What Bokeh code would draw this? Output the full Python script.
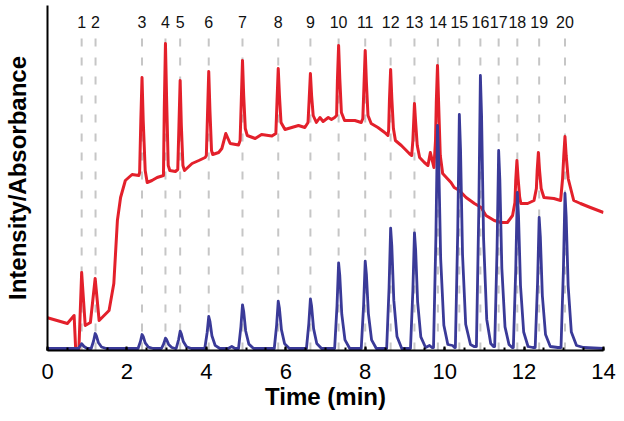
from bokeh.plotting import figure
from bokeh.models import Range1d, FixedTicker, ColumnDataSource
from bokeh.embed import file_html
from bokeh.resources import INLINE
from bokeh.core.properties import value

# ---------------- data ----------------
peak_labels = [str(i) for i in range(1, 21)]
peak_times = [0.86, 1.21, 2.38, 2.97, 3.34, 4.06, 4.91, 5.81, 6.62, 7.33,
              8.00, 8.64, 9.24, 9.83, 10.37, 10.90, 11.36, 11.83, 12.38, 13.03]

x_ticks = [0, 2, 4, 6, 8, 10, 12, 14]
x_minor_ticks = [0.5 * i for i in range(29)]

# MS intensity trace (red): time (min), intensity (arb.)
red_t = [0.00, 0.50, 0.67, 0.71, 0.79, 0.86, 0.95, 1.08, 1.20, 1.30,
         1.55, 1.67, 1.76, 1.84, 1.96, 2.13, 2.30,
         2.32, 2.35, 2.38, 2.41, 2.46,
         2.51, 2.63, 2.76, 2.92,
         2.94, 2.97, 3.00, 3.04, 3.08,
         3.22, 3.28, 3.31, 3.34, 3.37, 3.41, 3.45,
         3.64, 3.81, 3.97, 4.00, 4.03, 4.06, 4.09, 4.13, 4.16,
         4.31, 4.39, 4.49, 4.60, 4.81,
         4.85, 4.88, 4.91, 4.94, 4.98, 5.03,
         5.23, 5.39, 5.65, 5.75, 5.78, 5.81, 5.84, 5.88, 5.98,
         6.32, 6.48, 6.56, 6.59, 6.62, 6.65, 6.69, 6.77,
         6.86, 6.94, 7.07, 7.15, 7.23, 7.28, 7.30, 7.33, 7.36, 7.40, 7.48,
         7.74, 7.90, 7.94, 7.97, 8.00, 8.03, 8.07, 8.15,
         8.32, 8.49, 8.57, 8.59, 8.61, 8.64, 8.67, 8.71, 8.76,
         8.91, 9.11, 9.17, 9.20, 9.22, 9.24, 9.27, 9.31, 9.37,
         9.49, 9.58, 9.64, 9.73, 9.77, 9.79, 9.82, 9.85, 9.89, 9.95,
         10.16, 10.24, 10.37, 10.54, 10.75, 10.92, 11.04, 11.25, 11.42, 11.58, 11.71,
         11.77, 11.79, 11.82, 11.85, 11.89, 11.92,
         12.09, 12.25, 12.31, 12.33, 12.36, 12.39, 12.43, 12.50,
         12.75, 12.92, 12.97, 13.00, 13.03, 13.06, 13.11, 13.25,
         13.42, 13.67, 14.00]
red_v = [32.7, 27, 35, 1, 1, 78, 25, 28, 72, 30,
         40, 67, 130, 153, 170, 176, 175,
         178, 230, 273, 230, 180,
         168, 170, 173, 175,
         240, 307, 250, 185, 180,
         179, 181, 225, 270, 225, 185, 180,
         187, 190, 193, 195, 237, 279, 240, 200, 196,
         198, 202, 217, 207, 205.5,
         210, 250, 290, 255, 222, 215,
         212, 216, 214.5, 217, 250, 282, 255, 228, 221,
         225, 223, 228, 252, 277, 255, 235, 228,
         233, 229, 233, 231, 233, 235, 270, 305, 272, 238, 230,
         230, 228, 232, 266, 300, 268, 235, 227,
         223, 218, 215, 220, 250, 281, 252, 222, 210,
         205, 197, 195, 210, 228, 247, 228, 205, 193,
         188, 185, 198, 183, 210, 248, 285, 245, 195, 177,
         168, 163, 160, 153, 147, 143, 135, 130, 128, 128, 135,
         148, 170, 190, 172, 153, 147,
         147, 150, 162, 180, 198, 180, 162, 153,
         152, 150, 172, 195, 214, 195, 172, 150,
         147, 143, 138]

# UV absorbance trace (blue): time (min), absorbance (arb.)
blue_t = [0.00,
          0.78, 0.86, 0.92, 1.00,
          1.10, 1.16, 1.20, 1.23, 1.28, 1.36, 1.48,
          2.28, 2.34, 2.38, 2.41, 2.46, 2.54, 2.66,
          2.87, 2.93, 2.97, 3.00, 3.05, 3.13, 3.22,
          3.24, 3.30, 3.34, 3.37, 3.42, 3.50, 3.62,
          3.96, 4.02, 4.06, 4.09, 4.14, 4.22, 4.34,
          4.55, 4.64, 4.72,
          4.81, 4.87, 4.91, 4.94, 4.99, 5.07, 5.19,
          5.71, 5.77, 5.81, 5.84, 5.89, 5.97, 6.09,
          6.52, 6.58, 6.62, 6.65, 6.70, 6.78, 6.90,
          7.23, 7.29, 7.33, 7.36, 7.41, 7.49, 7.61,
          7.90, 7.96, 8.00, 8.03, 8.08, 8.16, 8.28,
          8.54, 8.60, 8.64, 8.67, 8.72, 8.80, 8.92,
          9.14, 9.20, 9.24, 9.27, 9.32, 9.40, 9.52, 9.62, 9.68,
          9.72, 9.78, 9.82, 9.85, 9.90, 9.98, 10.08, 10.20, 10.25,
          10.27, 10.33, 10.37, 10.40, 10.45, 10.53, 10.65, 10.74,
          10.80, 10.86, 10.90, 10.93, 10.98, 11.06, 11.16, 11.23,
          11.26, 11.32, 11.36, 11.39, 11.44, 11.52, 11.62, 11.70,
          11.73, 11.79, 11.83, 11.86, 11.91, 11.99, 12.10, 12.22,
          12.28, 12.34, 12.38, 12.41, 12.46, 12.54, 12.66, 12.85,
          12.93, 12.99, 13.03, 13.06, 13.11, 13.19, 13.32, 13.50,
          14.00]
blue_v = [2,
          2, 6.7, 4, 2,
          2, 9.5, 17, 14.8, 8, 3.5, 2,
          2, 9, 16, 14, 7.6, 3.4, 2,
          2, 7.2, 12.3, 10.8, 6.1, 3, 2,
          2, 10.7, 19.3, 16.7, 8.9, 3.7, 2,
          2, 18, 34, 29.2, 14.8, 5.2, 2,
          2, 4, 2,
          2, 23.9, 45.7, 39.1, 19.5, 6.4, 2,
          2, 25.7, 49.3, 42.2, 20.9, 6.7, 2,
          2, 26.9, 51.7, 44.2, 21.9, 7, 2,
          2, 44.9, 87.7, 74.8, 36.3, 10.6, 2,
          2, 45.7, 89.3, 76.2, 36.9, 10.7, 2,
          2, 62.2, 122.3, 104.3, 50.1, 14, 2,
          2, 59.9, 117.7, 100.3, 48.3, 13.6, 3, 5, 3,
          3, 114, 225, 191.7, 91.8, 25.2, 6, 5, 3,
          3, 119.5, 236, 201, 96.2, 26.3, 6, 4,
          4, 139.5, 275, 234.4, 112.4, 31.1, 7, 4,
          4, 102, 200, 170.6, 82.4, 23.6, 6, 3,
          3, 80.5, 158, 134.8, 65, 18.5, 4, 3,
          3, 68, 133, 113.5, 55, 16, 4, 3,
          3, 80, 157, 133.9, 64.6, 18.4, 5, 3,
          2]

Y_TOP = 345
DASH_TOP = 312
LABEL_Y = 329

FONT = "Liberation Sans"

p = figure(width=616, height=413, output_backend="svg", toolbar_location=None,
           x_range=Range1d(0, 14), y_range=Range1d(0, Y_TOP),
           min_border_left=45, min_border_right=13, min_border_top=5,
           min_border_bottom=63)
p.outline_line_color = None
p.xgrid.visible = False
p.ygrid.visible = False
p.background_fill_color = "white"
p.border_fill_color = "white"

# dashed guide lines at the peaks
guides = ColumnDataSource(dict(x=peak_times,
                               y0=[DASH_TOP] * len(peak_times),
                               y1=[0] * len(peak_times),
                               lab=peak_labels,
                               ly=[LABEL_Y] * len(peak_times)))
p.segment(x0="x", y0="y0", x1="x", y1="y1", source=guides,
          line_color="#c6c6c6", line_width=2, line_dash="8 11")
p.text(x="x", y="ly", text="lab", source=guides,
       text_font=value(FONT), text_font_size="16px", text_color="#111111",
       text_align="center", text_baseline="middle")

# traces
p.line(red_t, red_v, line_color="#e3202b", line_width=3, line_join="round")
p.line(blue_t, blue_v, line_color="#3a3a98", line_width=2.8, line_join="round")

# x axis
xa = p.xaxis[0]
xa.ticker = FixedTicker(ticks=x_ticks, minor_ticks=x_minor_ticks)
xa.axis_line_width = 2
xa.axis_line_color = "black"
xa.major_tick_in = 4
xa.major_tick_out = 0
xa.minor_tick_in = 3
xa.minor_tick_out = 0
xa.major_tick_line_width = 2
xa.minor_tick_line_width = 2
xa.major_label_text_font = FONT
xa.major_label_text_font_size = "22px"
xa.major_label_text_color = "black"
xa.major_label_standoff = 13
xa.axis_label = "Time (min)"
xa.axis_label_text_font = FONT
xa.axis_label_text_font_size = "24px"
xa.axis_label_text_font_style = "bold"
xa.axis_label_text_color = "black"
xa.axis_label_standoff = 1

# y axis (line + label only)
ya = p.yaxis[0]
ya.ticker = FixedTicker(ticks=[])
ya.axis_line_width = 2
ya.axis_line_color = "black"
ya.major_tick_in = 0
ya.major_tick_out = 0
ya.minor_tick_in = 0
ya.minor_tick_out = 0
ya.major_label_text_font_size = "0px"
ya.axis_label = "Intensity/Absorbance"
ya.axis_label_text_font = FONT
ya.axis_label_text_font_size = "24px"
ya.axis_label_text_font_style = "bold"
ya.axis_label_text_color = "black"
ya.axis_label_standoff = 17

open("out.html", "w").write(file_html(p, INLINE))
